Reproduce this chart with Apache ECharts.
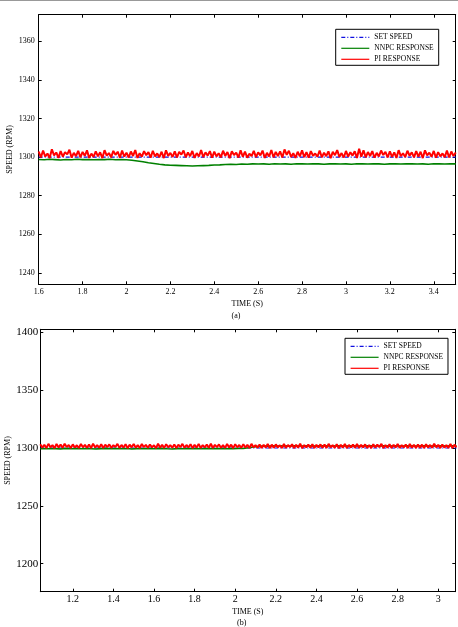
<!DOCTYPE html>
<html>
<head>
<meta charset="utf-8">
<script src="https://cdn.jsdelivr.net/npm/echarts@6/dist/echarts.min.js"></script>
<style>
  html, body { margin: 0; padding: 0; background: #fff; }
  #chart { width: 458px; height: 627px; }
</style>
</head>
<body>
<div id="chart"></div>
<script>
// legend names
const names = ['SET SPEED', 'NNPC RESPONSE', 'PI RESPONSE']

// (a) upper plot
const topXTicks = [1.6, 1.8, 2, 2.2, 2.4, 2.6, 2.8, 3, 3.2, 3.4]
const topYTicks = [1240, 1260, 1280, 1300, 1320, 1340, 1360]
const topSetTime = [1.6, 3.5]
const topSetSpeed = [1300, 1300]
const topPiStart = 1.6
const topPiStep = 0.01
const topPi = [
  1302.9, 1299.8, 1303.4, 1300.3, 1301.9, 1299.5, 1304.1, 1300.9, 1302.4, 1299.6,
  1303.1, 1300.2, 1302.6, 1301.4, 1303.8, 1299.7, 1302.2, 1300.5, 1303.3, 1299.9,
  1302.7, 1300.7, 1303.5, 1299.6, 1301.8, 1300.1, 1303.0, 1300.4, 1302.5, 1299.5,
  1303.6, 1300.8, 1302.1, 1299.9, 1303.2, 1301.2, 1302.8, 1299.7, 1303.4, 1300.3,
  1302.3, 1299.8, 1302.9, 1300.6, 1303.7, 1299.6, 1302.0, 1300.2, 1303.1, 1301.0,
  1302.6, 1299.7, 1303.3, 1300.4, 1301.9, 1300.0, 1302.8, 1299.5, 1303.5, 1300.7,
  1302.2, 1300.1, 1303.0, 1299.8, 1302.7, 1301.3, 1303.4, 1299.9, 1302.4, 1300.5,
  1303.2, 1299.6, 1302.1, 1300.3, 1303.6, 1300.0, 1302.5, 1300.8, 1303.1, 1299.7,
  1302.8, 1300.4, 1302.0, 1299.9, 1303.3, 1300.6, 1302.6, 1299.5, 1303.0, 1301.1,
  1302.3, 1299.8, 1303.5, 1300.2, 1302.9, 1299.7, 1301.8, 1300.5, 1303.2, 1300.0,
  1302.5, 1300.9, 1303.4, 1299.6, 1302.2, 1300.3, 1303.7, 1299.9, 1302.7, 1300.6,
  1303.0, 1299.8, 1304.0, 1301.2, 1303.3, 1300.1, 1302.0, 1299.6, 1302.8, 1300.4,
  1303.5, 1300.0, 1302.6, 1299.7, 1303.1, 1300.7, 1301.9, 1300.2, 1303.4, 1299.9,
  1302.3, 1300.5, 1303.0, 1299.5, 1302.7, 1301.0, 1303.6, 1300.1, 1302.1, 1299.8,
  1303.2, 1300.3, 1302.5, 1300.8, 1303.0, 1299.6, 1304.3, 1300.2, 1303.5, 1299.9,
  1302.6, 1300.6, 1303.1, 1299.7, 1302.2, 1300.4, 1303.4, 1301.1, 1302.7, 1299.8,
  1303.0, 1300.1, 1302.4, 1299.6, 1303.6, 1300.5, 1302.0, 1300.0, 1303.3, 1300.7,
  1302.5, 1299.9, 1303.1, 1300.3, 1302.8, 1299.5, 1303.5, 1300.9, 1302.3, 1300.2,
  1303.2, 1299.7, 1302.6, 1300.4, 1301.9, 1300.0, 1303.4, 1299.8, 1302.9, 1300.6,
  1302.4,
]
const topNnpcStart = 1.6
const topNnpcStep = 0.025
const topNnpc = [
  1298.8, 1298.6, 1298.9, 1298.7, 1298.5, 1298.8, 1298.6, 1298.9, 1298.7, 1298.8,
  1298.6, 1298.8, 1298.7, 1298.9, 1298.6, 1298.8, 1298.6, 1298.4, 1298.0, 1297.6,
  1297.1, 1296.7, 1296.3, 1296.0, 1295.8, 1295.7, 1295.6, 1295.5, 1295.4, 1295.5,
  1295.6, 1295.7, 1295.9, 1296.0, 1296.2, 1296.3, 1296.2, 1296.4, 1296.3, 1296.5,
  1296.4, 1296.5, 1296.3, 1296.6, 1296.4, 1296.5, 1296.3, 1296.6, 1296.5, 1296.4,
  1296.6, 1296.5, 1296.3, 1296.5, 1296.6, 1296.4, 1296.5, 1296.3, 1296.6, 1296.5,
  1296.4, 1296.6, 1296.5, 1296.3, 1296.5, 1296.6, 1296.4, 1296.5, 1296.6, 1296.4,
  1296.5, 1296.3, 1296.6, 1296.5, 1296.4, 1296.6, 1296.5,
]

// (b) lower plot
const botXTicks = [1.2, 1.4, 1.6, 1.8, 2, 2.2, 2.4, 2.6, 2.8, 3]
const botYTicks = [1200, 1250, 1300, 1350, 1400]
const botSetTime = [1.04, 3.09]
const botSetSpeed = [1300, 1300]
const botPiStart = 1.04
const botPiStep = 0.01
const botPi = [
  1303.2, 1300.3, 1302.8, 1300.0, 1303.6, 1300.7, 1302.5, 1299.9, 1303.4, 1300.5,
  1302.9, 1300.2, 1303.7, 1300.8, 1302.6, 1300.1, 1303.1, 1300.4, 1302.4, 1300.0,
  1303.5, 1300.6, 1302.7, 1300.2, 1303.0, 1299.9, 1303.8, 1300.5, 1302.5, 1300.3,
  1303.3, 1300.0, 1302.8, 1300.7, 1303.1, 1300.2, 1302.4, 1300.9, 1303.6, 1300.1,
  1302.6, 1300.4, 1303.2, 1299.9, 1302.9, 1300.6, 1303.5, 1300.3, 1302.5, 1300.0,
  1303.4, 1300.8, 1302.7, 1300.2, 1303.0, 1300.5, 1302.4, 1299.9, 1303.7, 1300.4,
  1302.8, 1300.1, 1303.3, 1300.6, 1302.5, 1300.3, 1303.1, 1300.0, 1302.9, 1300.7,
  1303.6, 1300.2, 1302.6, 1300.5, 1303.2, 1299.9, 1302.8, 1300.4, 1303.4, 1300.1,
  1302.5, 1300.6, 1303.0, 1300.2, 1303.7, 1300.0, 1302.7, 1300.8, 1303.1, 1300.3,
  1302.4, 1300.1, 1303.5, 1300.5, 1302.9, 1299.9, 1303.3, 1300.6, 1302.6, 1300.2,
  1303.2, 1300.4, 1302.8, 1300.0, 1303.6, 1300.7, 1302.5, 1300.3, 1303.0, 1300.1,
  1302.7, 1300.5, 1303.4, 1299.9, 1302.9, 1300.2, 1303.1, 1300.6, 1302.4, 1300.0,
  1303.5, 1300.3, 1302.6, 1300.8, 1303.2, 1300.1, 1302.8, 1300.4, 1303.7, 1299.9,
  1302.5, 1300.6, 1303.0, 1300.2, 1303.3, 1300.0, 1302.7, 1300.5, 1303.1, 1300.3,
  1302.9, 1300.1, 1303.6, 1300.7, 1302.4, 1300.2, 1303.2, 1299.9, 1302.8, 1300.4,
  1303.4, 1300.0, 1302.6, 1300.5, 1303.0, 1300.3, 1303.5, 1300.1, 1302.7, 1300.6,
  1303.1, 1300.2, 1302.5, 1299.9, 1303.3, 1300.4, 1302.9, 1300.7, 1303.6, 1300.0,
  1302.6, 1300.3, 1303.2, 1300.1, 1302.8, 1300.5, 1303.4, 1300.2, 1302.4, 1300.6,
  1303.0, 1299.9, 1303.5, 1300.4, 1302.7, 1300.1, 1303.1, 1300.3, 1302.9, 1300.0,
  1303.3, 1300.5, 1302.6, 1300.2, 1303.7, 1300.6, 1302.8, 1300.1, 1303.0, 1300.4,
  1302.5, 1300.2, 1303.4, 1300.0, 1302.9, 1300.5,
]
const botNnpcStart = 1.04
const botNnpcStep = 0.025
const botNnpc = [
  1299.4, 1299.6, 1299.3, 1299.5, 1299.2, 1299.7, 1299.4, 1299.5, 1299.3, 1299.6,
  1299.4, 1299.2, 1299.5, 1299.7, 1299.3, 1299.5, 1299.4, 1299.6, 1299.2, 1299.5,
  1299.4, 1299.6, 1299.3, 1299.5, 1299.7, 1299.4, 1299.2, 1299.5, 1299.4, 1299.6,
  1299.3, 1299.5, 1299.4, 1299.7, 1299.3, 1299.5, 1299.6, 1299.4, 1299.5, 1299.6,
  1299.7, 1300.2, 1300.9, 1301.4, 1301.7, 1301.6, 1301.9, 1301.7, 1301.8, 1301.6,
  1301.9, 1301.7, 1301.8, 1302.0, 1301.6, 1301.8, 1301.9, 1301.7, 1301.8, 1302.0,
  1301.7, 1301.8, 1301.9, 1301.6, 1301.8, 1302.0, 1301.7, 1301.9, 1301.8, 1301.6,
  1301.9, 1301.7, 1301.8, 1302.0, 1301.7, 1301.8, 1301.9, 1301.6, 1301.8, 1301.9,
  1301.7, 1301.8, 1301.9,
]

const FONT = 'Liberation Serif'
const BLUE = '#1010e0'
const GREEN = '#008000'
const RED = '#ff0000'

const sampled = (start, step, values) => values.map((v, i) => [start + i * step, v])
const paired = (xs, ys) => xs.map((x, i) => [x, ys[i]])

function boxAxes(gridIndex, xMin, xMax, yMin, yMax, xTicks, yTicks, fs) {
  const line = { show: true, onZero: false, lineStyle: { color: '#000', width: 1 } }
  const tick = (vals) => ({ show: true, inside: true, length: 3, customValues: vals, lineStyle: { color: '#000' } })
  const label = (vals, margin, size) => ({
    show: true, customValues: vals, margin, color: '#000', fontFamily: FONT, fontSize: size,
    formatter: (v) => String(v),
  })
  const nameStyle = { color: '#000', fontFamily: FONT, fontSize: 8 }
  return {
    x: [
      {
        type: 'value', gridIndex, min: xMin, max: xMax, position: 'bottom',
        axisLine: line, axisTick: tick(xTicks), axisLabel: label(xTicks, fs.xMargin, fs.x),
        splitLine: { show: false }, name: 'TIME (S)', nameLocation: 'middle', nameGap: fs.xNameGap,
        nameMoveOverlap: false, nameTextStyle: nameStyle,
      },
      {
        type: 'value', gridIndex, min: xMin, max: xMax, position: 'top',
        axisLine: line, axisTick: tick(xTicks), axisLabel: { show: false }, splitLine: { show: false },
      },
    ],
    y: [
      {
        type: 'value', gridIndex, min: yMin, max: yMax, position: 'left',
        axisLine: line, axisTick: tick(yTicks), axisLabel: label(yTicks, fs.yMargin, fs.y),
        splitLine: { show: false }, name: 'SPEED (RPM)', nameLocation: 'middle', nameGap: fs.yNameGap,
        nameMoveOverlap: false, nameTextStyle: nameStyle,
      },
      {
        type: 'value', gridIndex, min: yMin, max: yMax, position: 'right',
        axisLine: line, axisTick: tick(yTicks), axisLabel: { show: false }, splitLine: { show: false },
      },
    ],
  }
}

const topAxes = boxAxes(0, 1.6, 3.5, 1234.1, 1373.8, topXTicks, topYTicks,
  { x: 8, y: 8, xMargin: 4, yMargin: 4, xNameGap: 16, yNameGap: 25 })
const botAxes = boxAxes(1, 1.04, 3.084, 1175.8, 1402.6, botXTicks, botYTicks,
  { x: 10, y: 11, xMargin: 3, yMargin: 2, xNameGap: 16, yNameGap: 28 })

function seriesFor(xi, yi, setData, nnpcData, piData) {
  return [
    {
      name: names[0], type: 'line', xAxisIndex: xi, yAxisIndex: yi, data: setData,
      symbol: 'none', lineStyle: { color: BLUE, width: 1.2, type: [4, 2, 1, 2] }, itemStyle: { color: BLUE },
    },
    {
      name: names[1], type: 'line', xAxisIndex: xi, yAxisIndex: yi, data: nnpcData,
      symbol: 'none', lineStyle: { color: GREEN, width: 1.6 }, itemStyle: { color: GREEN },
    },
    {
      name: names[2], type: 'line', xAxisIndex: xi, yAxisIndex: yi, data: piData,
      symbol: 'none', lineStyle: { color: RED, width: 2 }, itemStyle: { color: RED },
    },
  ]
}

function legendAt(left, top) {
  return {
    data: names, orient: 'vertical', left, top,
    itemWidth: 28, itemHeight: 9, itemGap: 3,
    padding: [4, 5, 2, 5],
    borderColor: '#000', borderWidth: 1, backgroundColor: '#fff',
    itemStyle: { opacity: 0 },
    lineStyle: { width: 1.2 },
    textStyle: { color: '#000', fontFamily: FONT, fontSize: 7.5 },
    selectedMode: false,
  }
}

const chart = echarts.init(document.getElementById('chart'))

chart.setOption({
  animation: false,
  backgroundColor: '#fff',
  grid: [
    { left: 38.7, top: 14.7, width: 417, height: 269.6, containLabel: false, outerBoundsMode: 'none' },
    { left: 40.3, top: 329.3, width: 415, height: 262.4, containLabel: false, outerBoundsMode: 'none' },
  ],
  xAxis: [...topAxes.x, ...botAxes.x],
  yAxis: [...topAxes.y, ...botAxes.y],
  legend: [legendAt(335.7, 29.3), legendAt(345, 338.3)],
  series: [
    ...seriesFor(0, 0, paired(topSetTime, topSetSpeed), sampled(topNnpcStart, topNnpcStep, topNnpc),
      sampled(topPiStart, topPiStep, topPi)),
    ...seriesFor(2, 2, paired(botSetTime, botSetSpeed), sampled(botNnpcStart, botNnpcStep, botNnpc),
      sampled(botPiStart, botPiStep, botPi)),
  ],
  graphic: [
    { type: 'line', shape: { x1: 0, y1: 0.5, x2: 458, y2: 0.5 }, style: { stroke: '#999', lineWidth: 1 } },
    {
      type: 'text', x: 236, y: 315.7,
      style: { text: '(a)', fill: '#000', font: '8px "Liberation Serif"', align: 'center', verticalAlign: 'middle' },
    },
    {
      type: 'text', x: 241.7, y: 623,
      style: { text: '(b)', fill: '#000', font: '8px "Liberation Serif"', align: 'center', verticalAlign: 'middle' },
    },
  ],
})
</script>
</body>
</html>
